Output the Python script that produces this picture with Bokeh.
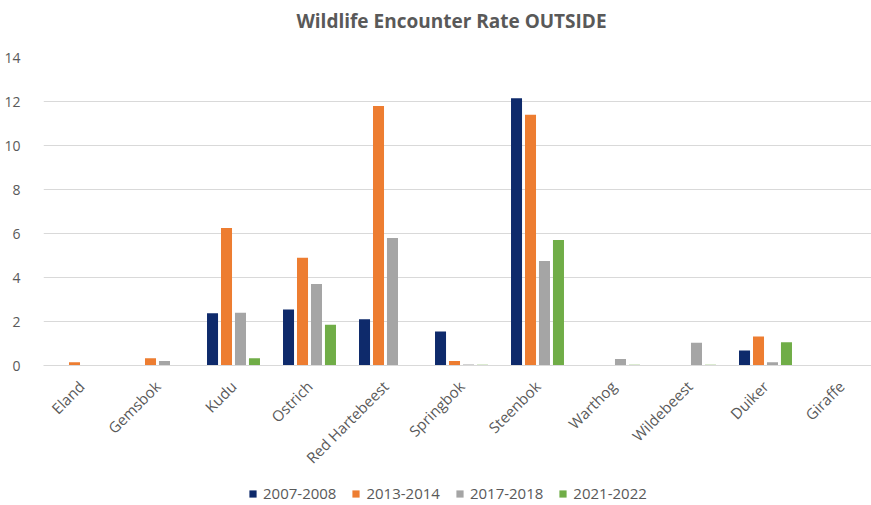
from bokeh.plotting import figure
from bokeh.models import ColumnDataSource, Range1d, FixedTicker, Label
from bokeh.layouts import column
from bokeh.transform import dodge
from bokeh.embed import file_html
from bokeh.resources import INLINE
import math

species = ["Eland", "Gemsbok", "Kudu", "Ostrich", "Red Hartebeest", "Springbok",
           "Steenbok", "Warthog", "Wildebeest", "Duiker", "Giraffe"]
series_names = ["2007-2008", "2013-2014", "2017-2018", "2021-2022"]
v2007 = [0, 0, 2.38, 2.55, 2.1, 1.55, 12.15, 0, 0, 0.68, 0]
v2013 = [0.15, 0.33, 6.25, 4.9, 11.8, 0.2, 11.4, 0, 0, 1.32, 0]
v2017 = [0, 0.21, 2.4, 3.7, 5.8, 0.05, 4.75, 0.3, 1.03, 0.15, 0]
v2021 = [0, 0, 0.33, 1.85, 0, 0.03, 5.7, 0.03, 0.03, 1.06, 0]
colors = ["#0E2A6B", "#ED7D31", "#A5A5A5", "#70AD47"]
y_ticks = [0, 2, 4, 6, 8, 10, 12, 14]
title_text = "Wildlife Encounter Rate OUTSIDE"

FONT = "Open Sans"
GREY = "#595959"

idx = list(range(len(species)))
source = ColumnDataSource(dict(x=idx, a=v2007, b=v2013, c=v2017, d=v2021))

PX_PER_CAT = 76
FRAME_W = 871 - 43
xr = Range1d(-0.5, -0.5 + FRAME_W / PX_PER_CAT)

# title strip
t = figure(width=871, height=40, output_backend="svg", toolbar_location=None,
           min_border=0, min_border_left=43, min_border_right=0,
           outline_line_color=None, x_range=xr, y_range=Range1d(0, 1))
t.axis.visible = False
t.grid.grid_line_color = None
t.add_layout(Label(x=-0.5 + (451 - 43) / PX_PER_CAT, y=0.5,
                   text=title_text, text_align="center", text_baseline="middle",
                   text_font=FONT, text_font_size="19px", text_font_style="bold",
                   text_color=GREY))

p = figure(width=871, height=440, output_backend="svg", toolbar_location=None,
           x_range=xr, y_range=Range1d(0, 14),
           min_border_left=43, min_border_right=0, min_border_top=17,
           min_border_bottom=115, outline_line_color=None)

offsets = [-0.276, -0.092, 0.092, 0.276]
cols = ["a", "b", "c", "d"]
for col, off, colr in zip(cols, offsets, colors):
    p.vbar(x=dodge("x", off), top=col, width=0.145, bottom=0, source=source,
           fill_color=colr, line_color=None)

p.xgrid.grid_line_color = None
p.ygrid.grid_line_color = "#D9D9D9"
p.ygrid.ticker = FixedTicker(ticks=y_ticks)

p.yaxis.ticker = FixedTicker(ticks=y_ticks)
p.yaxis.axis_line_color = None
p.yaxis.major_tick_line_color = None
p.yaxis.minor_tick_line_color = None
p.yaxis.major_label_text_font = FONT
p.yaxis.major_label_text_font_size = "14px"
p.yaxis.major_label_text_color = GREY
p.yaxis.major_label_standoff = 17

p.xaxis.ticker = FixedTicker(ticks=idx)
p.xaxis.major_label_overrides = {i: s for i, s in zip(idx, species)}
p.xaxis.major_label_orientation = math.pi / 4
p.xaxis.axis_line_color = "#D9D9D9"
p.xaxis.major_tick_line_color = None
p.xaxis.minor_tick_line_color = None
p.xaxis.major_label_text_font = FONT
p.xaxis.major_label_text_font_size = "15px"
p.xaxis.major_label_text_color = GREY
p.xaxis.major_label_standoff = 12

# legend strip below the chart (swatch glyphs sit outside the strip's visible range)
q = figure(width=871, height=25, output_backend="svg", toolbar_location=None,
           min_border=0, min_border_left=43, min_border_right=0,
           outline_line_color=None, x_range=Range1d(0, 1), y_range=Range1d(0, 1))
q.axis.visible = False
q.grid.grid_line_color = None
for colr, name in zip(colors, series_names):
    q.vbar(x=[5], top=[6], bottom=[5], width=0.1, fill_color=colr, line_color=None,
           legend_label=name)
lg = q.legend[0]
lg.orientation = "horizontal"
lg.location = (205, 2)
lg.border_line_color = None
lg.background_fill_alpha = 0
lg.padding = 0
lg.margin = 0
lg.glyph_width = 9
lg.glyph_height = 9
lg.label_standoff = 6
lg.spacing = 15
lg.label_text_font = FONT
lg.label_text_font_size = "15px"
lg.label_text_color = GREY

layout = column(t, p, q, spacing=0)
open("out.html", "w").write(file_html(layout, INLINE))
